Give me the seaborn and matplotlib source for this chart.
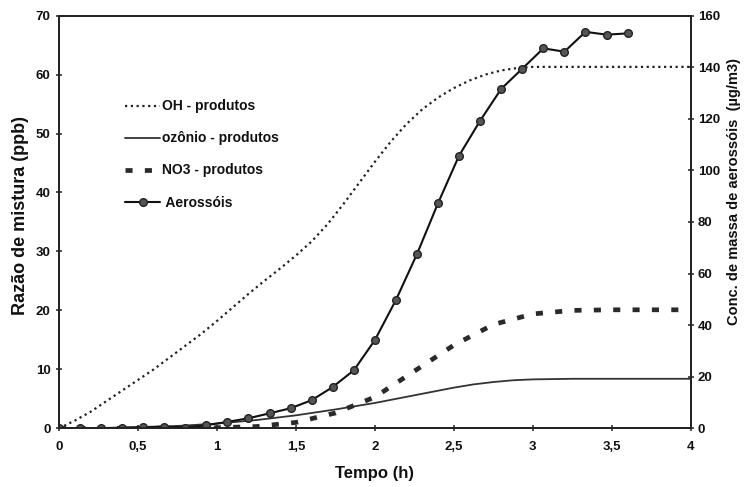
import numpy as np
import pandas as pd
import matplotlib
matplotlib.use("Agg")
import matplotlib.pyplot as plt
import seaborn as sns

# ---------------- data ----------------
# OH - produtos (ppb, left axis)
oh_t = [0, 0.1, 0.2, 0.3, 0.4, 0.5, 0.6, 0.7, 0.8, 0.9, 1.0, 1.1, 1.2, 1.3, 1.4,
        1.5, 1.6, 1.7, 1.8, 1.9, 2.0, 2.1, 2.2, 2.3, 2.4, 2.5, 2.6, 2.7, 2.8,
        2.9, 3.0, 3.2, 3.5, 4.0]
oh_v = [0, 1.3, 2.8, 4.6, 6.4, 8.2, 10.0, 12.0, 14.0, 16.0, 18.2, 20.5, 22.8,
        25.0, 27.1, 29.3, 31.7, 34.6, 38.0, 41.6, 45.2, 48.6, 51.6, 54.1, 56.1,
        57.7, 59.0, 60.0, 60.7, 61.1, 61.3, 61.3, 61.3, 61.3]

# ozônio - produtos (ppb, left axis)
oz_t = [0, 0.25, 0.5, 0.75, 1.0, 1.25, 1.5, 1.75, 2.0, 2.25, 2.5, 2.625, 2.75,
        2.875, 3.0, 3.25, 3.5, 4.0]
oz_v = [0, 0.05, 0.2, 0.4, 0.8, 1.4, 2.2, 3.2, 4.3, 5.6, 6.9, 7.45, 7.85,
        8.15, 8.3, 8.4, 8.4, 8.4]

# NO3 - produtos (ppb, left axis)
no3_t = [0, 0.5, 1.0, 1.25, 1.5, 1.75, 2.0, 2.25, 2.5, 2.75, 3.0, 3.25, 3.5,
         3.75, 3.95]
no3_v = [0, 0.0, 0.1, 0.3, 1.0, 2.6, 5.3, 9.7, 14.1, 17.6, 19.4, 20.0, 20.1,
         20.1, 20.1]

# Aerossóis (µg/m3, right axis), every 8 min
aer_t = [0, 0.133, 0.267, 0.4, 0.533, 0.667, 0.8, 0.933, 1.067, 1.2, 1.333,
         1.467, 1.6, 1.733, 1.867, 2.0, 2.133, 2.267, 2.4, 2.533, 2.667, 2.8,
         2.933, 3.067, 3.2, 3.333, 3.467, 3.6]
aer_v = [0, 0, 0, 0.2, 0.4, 0.6, 0.3, 1.2, 2.5, 3.9, 5.8, 7.8, 10.9, 16.0,
         22.5, 34.2, 49.7, 67.6, 87.3, 105.7, 119.3, 131.6, 139.4, 147.3,
         146.0, 153.7, 152.6, 153.1]

labels = ["OH - produtos", "ozônio - produtos", "NO3 - produtos", " Aerossóis"]
xticks = [0, 0.5, 1, 1.5, 2, 2.5, 3, 3.5, 4]
xticklabels = ["0", "0,5", "1", "1,5", "2", "2,5", "3", "3,5", "4"]
lticks = [0, 10, 20, 30, 40, 50, 60, 70]
rticks = [0, 20, 40, 60, 80, 100, 120, 140, 160]

# ---------------- style ----------------
sns.set_theme(style="ticks")
plt.rcParams["font.family"] = ["Liberation Sans", "DejaVu Sans"]
plt.rcParams["font.weight"] = "bold"

ink = "#222222"
tickfont = dict(family=["Liberation Sans", "DejaVu Sans"],
                weight="bold", size=9.5)

fig = plt.figure(figsize=(7.46, 4.87), dpi=100)
ax = fig.add_axes([0.079, 0.1205, 0.847, 0.8475])
ax2 = ax.twinx()

df_oh = pd.DataFrame({"t": oh_t, "v": oh_v})
df_oz = pd.DataFrame({"t": oz_t, "v": oz_v})
df_no3 = pd.DataFrame({"t": no3_t, "v": no3_v})
df_aer = pd.DataFrame({"t": aer_t, "v": aer_v})

sns.lineplot(data=df_oh, x="t", y="v", ax=ax, color=ink, lw=1.6,
             linestyle=(0, (1, 1.6)), legend=False)
sns.lineplot(data=df_oz, x="t", y="v", ax=ax, color="#333333", lw=1.3,
             legend=False)
sns.lineplot(data=df_no3, x="t", y="v", ax=ax, color="#2a2a2a", lw=3.4,
             linestyle=(0, (1.5, 2.6)), legend=False)
sns.lineplot(data=df_aer, x="t", y="v", ax=ax2, color="#111111", lw=1.5,
             marker="o", markersize=5.5, markerfacecolor="#555555",
             markeredgecolor="#222222", markeredgewidth=1.0, legend=False)

ax.set_xlim(0, 4)
ax.set_ylim(0, 70)
ax2.set_ylim(0, 160)
ax.set_xticks(xticks)
ax.set_xticklabels(xticklabels, fontdict=tickfont)
ax.set_yticks(lticks)
ax.set_yticklabels([str(v) for v in lticks], fontdict=tickfont)
ax2.set_yticks(rticks)
ax2.set_yticklabels([str(v) for v in rticks], fontdict=tickfont)

for a in (ax, ax2):
    for s in a.spines.values():
        s.set_visible(True)
        s.set_color(ink)
        s.set_linewidth(1.3)
ax.tick_params(axis="both", direction="inout", length=5, width=1.1,
               colors=ink, labelcolor="#111111")
ax.tick_params(axis="x", pad=6.5)
ax.tick_params(axis="y", pad=3.5)
ax2.tick_params(axis="y", direction="inout", length=5, width=1.1,
                colors=ink, labelcolor="#111111", pad=2.5)

ax.set_xlabel("Tempo (h)", fontsize=12, fontweight="bold", color="#111111")
ax.set_ylabel("Razão de mistura (ppb)", fontsize=13, fontweight="bold",
              color="#111111")
ax2.set_ylabel("Conc. de massa de aerossóis  (µg/m3)", fontsize=10.5,
               fontweight="bold", color="#111111")
ax.xaxis.set_label_coords(0.5, -0.091)
ax.yaxis.set_label_coords(-0.047, 0.515)
ax2.yaxis.set_label_coords(1.057, 0.573)

handles = ax.get_lines()[:3] + ax2.get_lines()[:1]
leg = ax2.legend(handles, labels, loc="upper left",
                 bbox_to_anchor=(0.105, 0.797), frameon=False,
                 prop=dict(family=["Liberation Sans", "DejaVu Sans"],
                           weight="bold", size=10),
                 handlelength=2.5, handletextpad=0.15, labelspacing=1.3,
                 borderpad=0, borderaxespad=0)
for t in leg.get_texts():
    t.set_color("#111111")

fig.savefig("out.png", dpi=100)
